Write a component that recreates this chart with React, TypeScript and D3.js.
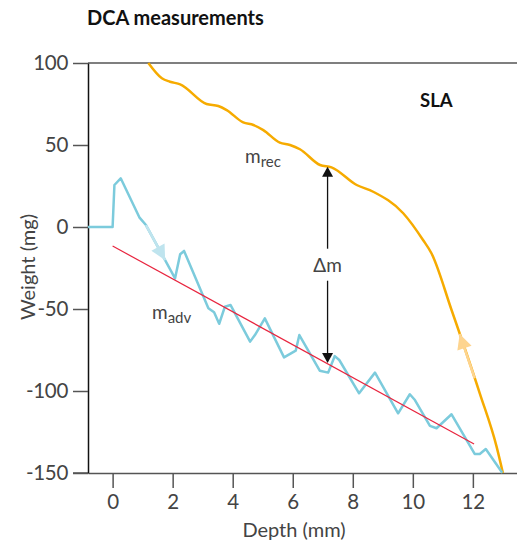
import React, { useEffect, useRef } from "react";
import * as d3 from "d3";

// ---- data ----
const yTicks = [-150, -100, -50, 0, 50, 100];
const xTicks = [0, 2, 4, 6, 8, 10, 12];

const advDepth = [-0.82, 0, 0.06, 0.27, 0.89, 1.11, 2.08, 2.25, 2.38, 3.19, 3.38, 3.55, 3.74, 3.93, 4.58, 4.74, 5.07, 5.71, 6.1, 6.22, 6.9, 7.18, 7.4, 7.55, 8.21, 8.74, 9.51, 9.9, 10.07, 10.57, 10.79, 11.29, 12.06, 12.23, 12.43, 12.98];
const advWeight = [0, 0, 25.6, 29.7, 5.9, 1.2, -31.3, -16.6, -14.6, -49.6, -52, -59, -48.6, -47.6, -69.9, -65.9, -55.7, -79.5, -75.4, -65.9, -87.6, -88.8, -78.7, -81.1, -101.4, -88.8, -113.6, -102, -105.5, -121.3, -122.7, -114.2, -138.4, -138.4, -135.4, -149.8];

const recDepth = [1.19, 1.64, 1.91, 2.25, 3.13, 3.52, 3.8, 4.35, 4.69, 5.02, 5.57, 5.91, 6.24, 6.91, 7.29, 8.13, 8.68, 9.68, 10.34, 10.62, 11.29, 12.23, 12.79, 13.0];
const recWeight = [100, 90.7, 88.6, 87, 75, 73.8, 71.3, 63.8, 62.2, 59.1, 51.4, 50, 47.4, 37.8, 36.4, 25.6, 21.5, 8.4, -7.9, -16, -50.6, -101.4, -133.9, -150];

const fitDepth = [0, 12.04];
const fitWeight = [-11.6, -132.3];

const advArrowDepth = 1.75; // direction arrow on advancing curve
const advArrowFrom = 5; // vertex where the light segment begins
const recArrowDepth = 11.56; // direction arrow on receding curve
const deltaDepth = 7.16;
const deltaTop = 36.8;
const deltaBottom = -83;
const deltaLabelW = -23;

const W = 517;
const H = 544;
const FONT = "Lato, 'Noto Sans', sans-serif";
const BLUE = "#7ccbdc";
const BLUE_LIGHT = "#bfe4ee";
const ORANGE = "#f6ab00";
const ORANGE_LIGHT = "#fdd48f";
const RED = "#e8253f";
const GREY = "#555";
const TXT = "#444";

const x = d3.scaleLinear().domain([-0.82, 13.47]).range([88, W]);
const y = d3.scaleLinear().domain([-150, 100]).range([473, 63]);

const fmt = (v: number) => String(v);

function interp(ds: number[], ws: number[], d: number) {
  const i = d3.bisectRight(ds, d) - 1;
  const t = (d - ds[i]) / (ds[i + 1] - ds[i]);
  return ws[i] + t * (ws[i + 1] - ws[i]);
}

function arrowHead(px: number, py: number, fromX: number, fromY: number, len: number, half: number) {
  const dx = px - fromX, dy = py - fromY;
  const L = Math.hypot(dx, dy);
  const ux = dx / L, uy = dy / L;
  const bx = px - ux * len, by = py - uy * len;
  const nx = -uy, ny = ux;
  return `M${px},${py}L${bx + nx * half},${by + ny * half}L${bx - nx * half},${by - ny * half}Z`;
}

export default function App() {
  const leftRef = useRef<SVGGElement>(null);
  const bottomRef = useRef<SVGGElement>(null);

  useEffect(() => {
    const la = d3.axisLeft(y).tickValues(yTicks).tickSize(15).tickSizeOuter(0).tickPadding(5).tickFormat(fmt as any);
    const lg = d3.select(leftRef.current!);
    lg.call(la as any);
    lg.select(".domain").attr("stroke", "#111").attr("stroke-width", 1.5);
    lg.selectAll(".tick line").attr("stroke", GREY).attr("stroke-width", 1.5);
    lg.selectAll(".tick text").attr("fill", TXT).attr("font-size", 20.5).attr("font-family", FONT).attr("font-weight", 400).attr("letter-spacing", -0.3);

    const ba = d3.axisBottom(x).tickValues(xTicks).tickSize(15).tickSizeOuter(0).tickPadding(6).tickFormat(fmt as any);
    const bg = d3.select(bottomRef.current!);
    bg.call(ba as any);
    bg.select(".domain").attr("stroke", GREY).attr("stroke-width", 1.5);
    bg.selectAll(".tick line").attr("stroke", GREY).attr("stroke-width", 1.5);
    bg.selectAll(".tick text").attr("fill", TXT).attr("font-size", 20.5).attr("font-family", FONT).attr("font-weight", 400);
  }, []);

  const advPts: [number, number][] = advDepth.map((d, i) => [x(d), y(advWeight[i])]);
  const recPts: [number, number][] = recDepth.map((d, i) => [x(d), y(recWeight[i])]);
  const straight = d3.line();
  const smooth = d3.line().curve(d3.curveMonotoneX);

  const aTipX = x(advArrowDepth), aTipY = y(interp(advDepth, advWeight, advArrowDepth));
  const aFrom = advPts[advArrowFrom];
  const rTipX = x(recArrowDepth), rTipY = y(interp(recDepth, recWeight, recArrowDepth));
  const rBackD = recArrowDepth + 0.5;
  const rBackX = x(rBackD), rBackY = y(interp(recDepth, recWeight, rBackD));

  const dx = x(deltaDepth);
  const dTop = y(deltaTop), dBot = y(deltaBottom), dLab = y(deltaLabelW);

  return (
    <svg width={W} height={H} style={{ position: "absolute", left: 0, top: 0, background: "#fff" }} fontFamily={FONT}>
      <text x={87} y={25} fontSize={20} fontWeight={700} fill="#111">DCA measurements</text>

      <line x1={x.range()[0]} x2={W} y1={y(100)} y2={y(100)} stroke={GREY} strokeWidth={1.5} />

      <g ref={bottomRef} transform={`translate(0,${y(-150)})`} />
      <line x1={73} x2={x.range()[0]} y1={y(-150)} y2={y(-150)} stroke={GREY} strokeWidth={1.5} />
      <g ref={leftRef} transform={`translate(${x.range()[0]},0)`} />

      <path d={smooth(recPts)!} fill="none" stroke={ORANGE} strokeWidth={2.5} />
      <path d={straight([[rTipX, rTipY], [rBackX, rBackY]])!} fill="none" stroke={ORANGE_LIGHT} strokeWidth={2.5} />
      <path d={arrowHead(rTipX, rTipY, rBackX, rBackY, 15, 7.5)} fill={ORANGE_LIGHT} />

      <path d={straight(advPts)!} fill="none" stroke={BLUE} strokeWidth={2.5} strokeLinejoin="round" />
      <path d={straight([aFrom, [aTipX, aTipY]])!} fill="none" stroke={BLUE_LIGHT} strokeWidth={2.5} />
      <path d={arrowHead(aTipX, aTipY, aFrom[0], aFrom[1], 15, 7.5)} fill={BLUE_LIGHT} />

      <line x1={x(fitDepth[0])} y1={y(fitWeight[0])} x2={x(fitDepth[1])} y2={y(fitWeight[1])} stroke={RED} strokeWidth={1.2} />

      <line x1={dx} x2={dx} y1={dTop + 9} y2={dLab - 16} stroke="#111" strokeWidth={1.3} />
      <line x1={dx} x2={dx} y1={dLab + 16} y2={dBot - 9} stroke="#111" strokeWidth={1.3} />
      <path d={`M${dx},${dTop}L${dx - 5.5},${dTop + 10}L${dx + 5.5},${dTop + 10}Z`} fill="#111" />
      <path d={`M${dx},${dBot}L${dx - 5.5},${dBot - 10}L${dx + 5.5},${dBot - 10}Z`} fill="#111" />
      <text x={dx} y={dLab + 7} fontSize={19} fontWeight={400} textAnchor="middle" fill={TXT}>Δm</text>

      <text x={245} y={163} fontSize={19} fontWeight={400} fill={TXT}>m<tspan fontSize={15} dy={4}>rec</tspan></text>
      <text x={152} y={319} fontSize={19} fontWeight={400} fill={TXT}>m<tspan fontSize={15} dy={4}>adv</tspan></text>

      <text x={420} y={107} fontSize={18.5} fontWeight={700} fill="#111">SLA</text>

      <text x={294} y={537} fontSize={20} fontWeight={400} textAnchor="middle" fill={TXT}>Depth (mm)</text>
      <text transform={`translate(35,267) rotate(-90)`} fontSize={20} fontWeight={400} textAnchor="middle" fill={TXT}>Weight (mg)</text>
    </svg>
  );
}
